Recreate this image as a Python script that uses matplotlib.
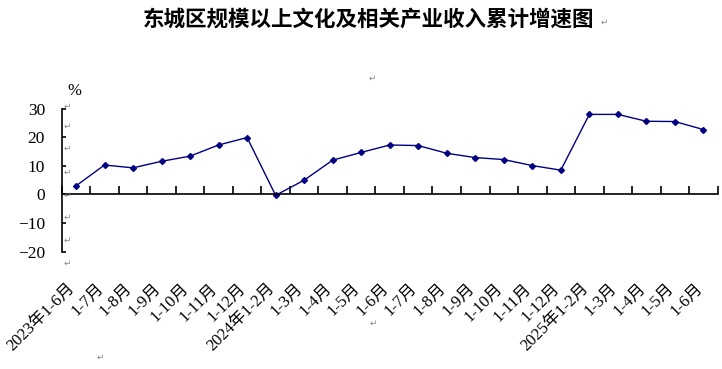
#Cumulative growth of Dongcheng culture industry revenue (line chart)
import matplotlib.pyplot as plt
import matplotlib.transforms as mtransforms
import numpy as np

periods = ['2023年1-6月', '1-7月', '1-8月', '1-9月', '1-10月', '1-11月', '1-12月',
           '2024年1-2月', '1-3月', '1-4月', '1-5月', '1-6月', '1-7月', '1-8月',
           '1-9月', '1-10月', '1-11月', '1-12月',
           '2025年1-2月', '1-3月', '1-4月', '1-5月', '1-6月']
growth = [3.0, 10.3, 9.3, 11.6, 13.4, 17.3, 19.9,
          -0.3, 5.0, 12.0, 14.7, 17.3, 17.1, 14.4,
          12.9, 12.2, 10.1, 8.5,
          28.0, 28.0, 25.6, 25.5, 22.7]
yticks = [-20, -10, 0, 10, 20, 30]

title = '东城区规模以上文化及相关产业收入累计增速图'
serif = ['Liberation Serif', 'Noto Sans CJK SC']

fig = plt.figure(figsize=(7.22, 3.69), dpi=100)
ax = fig.add_axes([0.0855, 0.318, 0.9085, 0.3875])

x = np.arange(len(growth))
ax.plot(x, growth, color='#000080', linewidth=1, marker='D', markersize=3)

ax.set_xlim(-0.5, len(growth) - 0.5)
ax.set_ylim(-20, 30)

#axes lines: only left and the zero line
ax.spines['top'].set_visible(False)
ax.spines['right'].set_visible(False)
ax.spines['bottom'].set_position(('data', 0))
for s in ['left', 'bottom']:
    ax.spines[s].set_linewidth(1.2)

ax.set_yticks(yticks)
ax.set_yticklabels([str(v).replace('-', '\u2212') for v in yticks], fontfamily=serif, fontsize=12.5)
ax.tick_params(axis='y', direction='in', length=3, width=1.2, pad=12)

ax.set_xticks(x)
ax.set_xticklabels(periods, rotation=45, ha='right', va='top', rotation_mode='anchor',
                   fontfamily=serif, fontsize=12)
ax.tick_params(axis='x', which='major', length=0, pad=62)
ax.set_xticks(np.arange(len(growth) + 1) - 0.5, minor=True)
ax.tick_params(axis='x', which='minor', direction='in', length=6, width=1.2)

#nudge the rotated labels left so they end just before each point
shift = mtransforms.ScaledTranslation(-0.09, 0, fig.dpi_scale_trans)
for lab in ax.get_xticklabels():
    lab.set_transform(lab.get_transform() + shift)

fig.text(74 / 722, 1 - 99 / 369, '%', fontfamily=serif, fontsize=12, ha='center', va='bottom')
fig.text(369 / 722, 1 - 19 / 369, title, fontfamily='Noto Sans CJK SC', fontweight='bold',
         fontsize=15.5, ha='center', va='center')

#paragraph marks left over from the document
marks = [(604, 22), (372, 78), (100, 357), (373, 323)] + \
        [(67, yy) for yy in [106, 126, 148, 172, 195, 217, 240, 263]]
for mx, my in marks:
    fig.text(mx / 722, 1 - my / 369, '\u21b5', fontfamily='DejaVu Sans', fontsize=6.5,
             color='#888888', ha='center', va='center')

fig.savefig('out.png', dpi=100)
